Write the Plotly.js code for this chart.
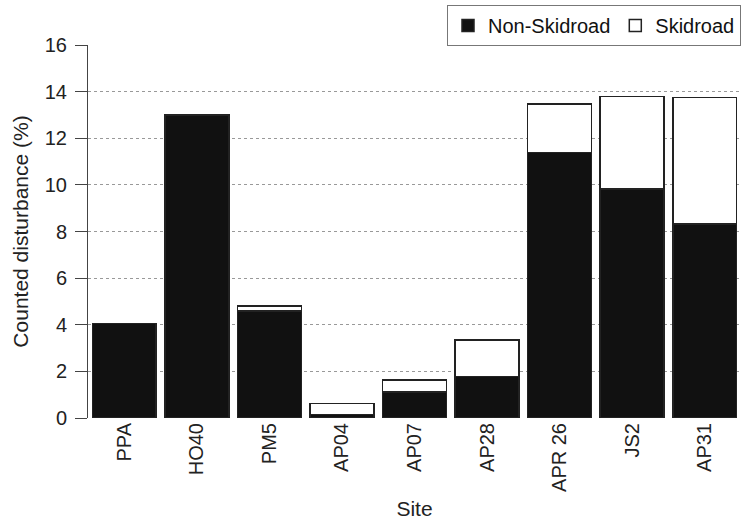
<!DOCTYPE html>
<html>
<head>
<meta charset="utf-8">
<script src="https://cdn.plot.ly/plotly-3.0.1.min.js"></script>
<style>html,body{margin:0;padding:0;background:#fff;}#chart{width:741px;height:520px;}</style>
</head>
<body>
<div id="chart"></div>
<script>
const sites = ["PPA", "HO40", "PM5", "AP04", "AP07", "AP28", "APR 26", "JS2", "AP31"];
const nonSkidroad = [4.05, 13.0, 4.6, 0.15, 1.12, 1.77, 11.38, 9.82, 8.32];
const skidroad = [0.0, 0.0, 0.2, 0.48, 0.5, 1.58, 2.08, 3.98, 5.43];
const yTicks = [0, 2, 4, 6, 8, 10, 12, 14, 16];

const fam = "Liberation Sans, Arial, sans-serif";
const tickFont = {family: fam, size: 20, color: "#222"};
const titleFont = {family: fam, size: 21, color: "#222"};
const legendFont = {family: fam, size: 20, color: "#111"};

const traces = [
  {type: "bar", name: "Non-Skidroad", x: sites, y: nonSkidroad,
   marker: {color: "#111111", line: {color: "#222", width: 1.5}}},
  {type: "bar", name: "Skidroad", x: sites, y: skidroad,
   marker: {color: "#ffffff", line: {color: "#222", width: 1.5}}}
];

const layout = {
  width: 741, height: 520,
  margin: {l: 88, r: 0, t: 45, b: 102},
  barmode: "stack",
  bargap: 0.12,
  paper_bgcolor: "#fff", plot_bgcolor: "#fff",
  font: tickFont,
  showlegend: true,
  legend: {orientation: "h", x: 1, xanchor: "right", y: 1.107, yanchor: "top",
           bordercolor: "#777", borderwidth: 1, bgcolor: "#fff",
           font: legendFont, itemwidth: 30, traceorder: "normal"},
  xaxis: {type: "category", tickangle: -90, showgrid: false, zeroline: false,
          showline: false, ticks: "", tickfont: tickFont,
          title: {text: "Site", font: titleFont, standoff: 14}},
  yaxis: {range: [0, 16], tickvals: yTicks, ticktext: yTicks.map(String),
          showline: true, linecolor: "#444", linewidth: 1,
          ticks: "outside", ticklen: 12, tickcolor: "#444", tickfont: tickFont,
          ticklabelstandoff: 4,
          showgrid: true, gridcolor: "#999", griddash: "3px,3px", gridwidth: 1,
          zeroline: false,
          title: {text: "Counted disturbance (%)", font: titleFont, standoff: 10}}
};

Plotly.newPlot("chart", traces, layout, {displayModeBar: false, staticPlot: true});
</script>
</body>
</html>
